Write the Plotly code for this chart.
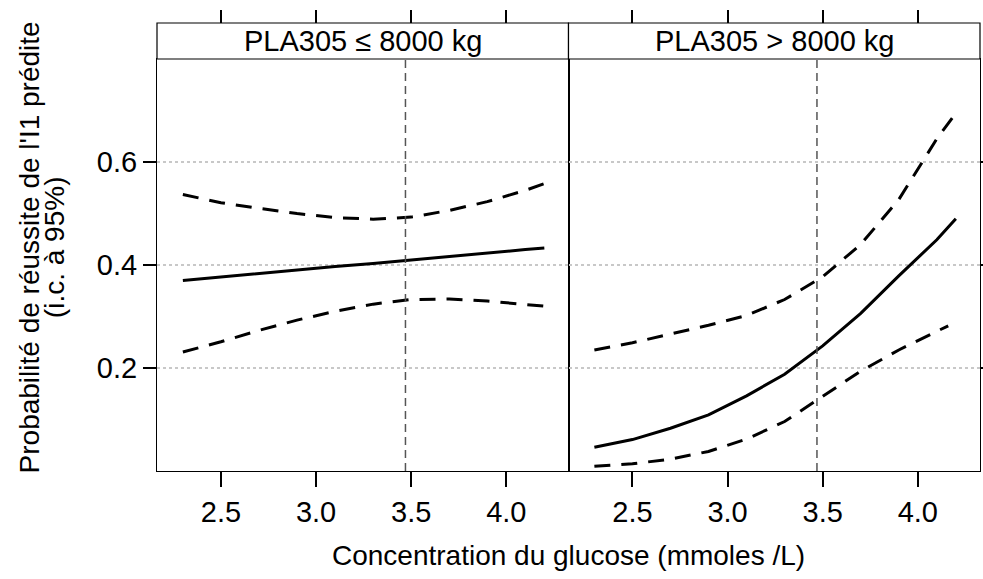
import plotly.graph_objects as go

# glucose values (mmoles/L)
glucose = [2.3, 2.5, 2.7, 2.9, 3.1, 3.3, 3.5, 3.7, 3.9, 4.1, 4.2]
glucose_low_right = [2.3, 2.5, 2.7, 2.9, 3.1, 3.3, 3.5, 3.7, 3.9, 4.1, 4.16]

# PLA305 <= 8000 kg
left_fit = [0.370, 0.377, 0.383, 0.390, 0.397, 0.403, 0.410, 0.417, 0.423, 0.430, 0.433]
left_upper = [0.537, 0.521, 0.510, 0.500, 0.492, 0.489, 0.493, 0.506, 0.523, 0.545, 0.558]
left_lower = [0.231, 0.251, 0.273, 0.293, 0.310, 0.324, 0.333, 0.334, 0.330, 0.324, 0.320]

# PLA305 > 8000 kg
right_fit = [0.046, 0.061, 0.083, 0.109, 0.146, 0.188, 0.243, 0.306, 0.379, 0.449, 0.490]
right_upper = [0.235, 0.249, 0.266, 0.283, 0.302, 0.333, 0.377, 0.440, 0.527, 0.645, 0.695]
right_lower = [0.009, 0.014, 0.023, 0.038, 0.062, 0.096, 0.145, 0.194, 0.235, 0.271, 0.282]

strip_labels = ["PLA305 \u2264 8000 kg", "PLA305 > 8000 kg"]
ref_glucose = 3.47

x_ticks = [2.5, 3.0, 3.5, 4.0]
x_ticktext = ["2.5", "3.0", "3.5", "4.0"]
y_ticks = [0.2, 0.4, 0.6]
y_ticktext = ["0.2", "0.4", "0.6"]

FONT = "Liberation Sans, Arial, sans-serif"
FS = 29
x_range = [2.164, 4.327]
y_range = [0.0, 0.8]
top = 0.9196  # top of the panels, strips above

fig = go.Figure()

solid = dict(color="black", width=3)
dashed = dict(color="black", width=3, dash="16px,11px")

fig.add_trace(go.Scatter(x=glucose, y=left_fit, mode="lines", line=solid, xaxis="x", yaxis="y"))
fig.add_trace(go.Scatter(x=glucose, y=left_upper, mode="lines", line=dashed, xaxis="x", yaxis="y"))
fig.add_trace(go.Scatter(x=glucose, y=left_lower, mode="lines", line=dashed, xaxis="x", yaxis="y"))
fig.add_trace(go.Scatter(x=glucose, y=right_fit, mode="lines", line=solid, xaxis="x2", yaxis="y2"))
fig.add_trace(go.Scatter(x=glucose, y=right_upper, mode="lines", line=dashed, xaxis="x2", yaxis="y2"))
fig.add_trace(go.Scatter(x=glucose_low_right, y=right_lower, mode="lines", line=dashed, xaxis="x2", yaxis="y2"))
# empty traces so the tick-only axes (top and right) get drawn
for xa, ya in [("x3", "y"), ("x4", "y2"), ("x2", "y3")]:
    fig.add_trace(go.Scatter(x=[], y=[], mode="lines", xaxis=xa, yaxis=ya, hoverinfo="skip"))

xcommon = dict(range=x_range, tickvals=x_ticks, ticktext=x_ticktext, showgrid=False, zeroline=False,
               showline=True, linecolor="black", linewidth=1.2, mirror=True, automargin=False,
               ticks="outside", ticklen=15, tickwidth=1.5, tickcolor="black",
               tickfont=dict(family=FONT, size=FS, color="black"))
ycommon = dict(range=y_range, tickvals=y_ticks, domain=[0, top], zeroline=False, automargin=False,
               showgrid=True, gridcolor="#c8c8c8", griddash="dot", gridwidth=1.5,
               showline=True, linecolor="black", linewidth=1.2, mirror=True)
topticks = dict(side="top", anchor="free", position=1, range=x_range, automargin=False,
                tickvals=x_ticks, showticklabels=False, showgrid=False, zeroline=False,
                ticks="outside", ticklen=13, tickwidth=1.5, tickcolor="black")

fig.update_layout(
    width=983, height=579,
    margin=dict(l=157, r=3, t=23, b=108, autoexpand=False),
    paper_bgcolor="white", plot_bgcolor="white",
    showlegend=False,
    xaxis=dict(domain=[0, 0.5], anchor="y", **xcommon),
    xaxis2=dict(domain=[0.5, 1], anchor="y2", **xcommon),
    xaxis3=dict(overlaying="x", **topticks),
    xaxis4=dict(overlaying="x2", **topticks),
    yaxis=dict(anchor="x", ticktext=y_ticktext, ticks="outside", ticklen=13, tickwidth=1.5,
               tickcolor="black", tickfont=dict(family=FONT, size=FS, color="black"), **ycommon),
    yaxis2=dict(anchor="x2", showticklabels=False, ticks="", **ycommon),
    yaxis3=dict(overlaying="y2", side="right", anchor="x2", range=y_range, tickvals=y_ticks,
                showticklabels=False, showgrid=False, zeroline=False, automargin=False,
                ticks="outside", ticklen=13, tickwidth=1.5, tickcolor="black"),
)

shapes = []
for i, lab in enumerate(strip_labels):
    x0, x1 = i * 0.5, (i + 1) * 0.5
    shapes.append(dict(type="rect", xref="paper", yref="paper", x0=x0, x1=x1, y0=top, y1=1,
                       line=dict(color="black", width=1.2), fillcolor="white"))
    fig.add_annotation(text=lab, xref="paper", yref="paper", x=(x0 + x1) / 2, y=(top + 1) / 2,
                       showarrow=False, font=dict(family=FONT, size=FS, color="black"),
                       xanchor="center", yanchor="middle")
for xr, yr in [("x", "y domain"), ("x2", "y2 domain")]:
    shapes.append(dict(type="line", xref=xr, yref=yr, x0=ref_glucose, x1=ref_glucose, y0=0, y1=1,
                       line=dict(color="#555555", width=1.5, dash="8px,5px"), layer="above"))
fig.update_layout(shapes=shapes)

# axis titles
fig.add_annotation(text="Concentration du glucose (mmoles /L)", xref="paper", yref="paper",
                   x=0.5, y=-0.188, showarrow=False, xanchor="center", yanchor="middle",
                   font=dict(family=FONT, size=28, color="black"))
fig.add_annotation(text="Probabilité de réussite de l'I1 prédite", xref="paper", yref="paper",
                   x=-0.155, y=0.5, showarrow=False, textangle=-90, xanchor="center", yanchor="middle",
                   font=dict(family=FONT, size=28, color="black"))
fig.add_annotation(text="(i.c. à 95%)", xref="paper", yref="paper",
                   x=-0.125, y=0.5, showarrow=False, textangle=-90, xanchor="center", yanchor="middle",
                   font=dict(family=FONT, size=28, color="black"))

# drop the default page margin so the figure sits at the window's corner
fig.write_html("out.html", config={"displayModeBar": False},
               post_script="document.body.style.margin='0px';")
